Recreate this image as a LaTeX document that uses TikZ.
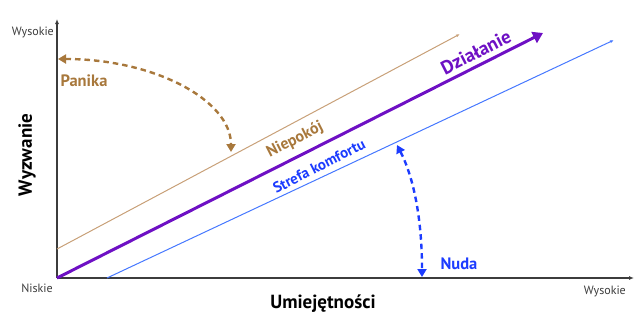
\documentclass[tikz,border=0pt]{standalone}
\usepackage{fontspec}
\setmainfont{PT Sans}
\usetikzlibrary{arrows.meta}
\definecolor{axisgray}{RGB}{60,60,60}
\definecolor{brownT}{RGB}{168,120,60}
\definecolor{brownL}{RGB}{200,160,120}
\definecolor{purp}{RGB}{110,16,196}
\definecolor{blueT}{RGB}{28,60,255}
\definecolor{blueL}{RGB}{70,120,255}
\tikzset{
  axis/.style={draw=axisgray, line width=1.3pt, -{Latex[length=5pt,width=4pt]}},
  small/.style={font=\fontsize{12}{14}\selectfont, text=axisgray, inner sep=1pt},
  title/.style={font=\bfseries\fontsize{19}{21}\selectfont, inner sep=0pt},
  lab/.style={font=\bfseries\fontsize{16.5}{18}\selectfont, inner sep=0pt},
  dasharrow/.style={line width=2.4pt, dash pattern=on 5.5pt off 4pt, {Triangle[length=8pt,width=9pt]}-{Triangle[length=8pt,width=9pt]}}
}
\begin{document}
\begin{tikzpicture}[x=1pt,y=-1pt]
\useasboundingbox (0,0) rectangle (644,324);
% axes
\coordinate (O) at (57,278);
\coordinate (Ytop) at (57,19);
\coordinate (Xend) at (634,278);
\draw[axis] (O) -- (Ytop);
\draw[axis] (O) -- (Xend);
\node[small, anchor=east] (wys1) at (55,32) {Wysokie};
\node[small, anchor=east] (nis) at (54,288) {Niskie};
\node[small, anchor=east] (wys2) at (627,291) {Wysokie};
\node[title, rotate=90] (wyz) at (27,155) {Wyzwanie};
\node[title] (umi) at (323,304) {Umiejętności};
% lines
\coordinate (b1) at (57,249);
\coordinate (b2) at (460,34);
\draw[brownL, line width=1pt, -{Latex[length=4pt,width=3pt]}] (b1) -- (b2);
\coordinate (p2) at (543,33);
\draw[purp, line width=3pt, -{Triangle[length=10pt,width=12pt]}] (O) -- (p2);
\coordinate (c1) at (107,278);
\coordinate (c2) at (614,40);
\draw[blueL, line width=1pt, -{Latex[length=4pt,width=3pt]}] (c1) -- (c2);
% line labels
\node[lab, text=purp, rotate=27, font=\bfseries\fontsize{19}{21}\selectfont] (dz) at (476,52) {Działanie};
\node[lab, text=brownT, rotate=27, font=\bfseries\fontsize{16}{18}\selectfont] (nie) at (295,140) {Niepokój};
\node[lab, text=blueT, rotate=27, font=\bfseries\fontsize{15}{17}\selectfont] (str) at (319,166) {Strefa komfortu};
% zone labels
\node[lab, text=brownT] (pan) at (84,81) {Panika};
\node[lab, text=blueT] (nud) at (459,264) {Nuda};
% dashed arrows
\coordinate (pa1) at (58,59);
\coordinate (pa2) at (231,152);
\draw[dasharrow, brownT] (pa1) .. controls (154,59) and (231,100) .. (pa2);
\coordinate (nu1) at (397,145);
\coordinate (nu2) at (422,277);
\draw[dasharrow, blueT] (nu1) .. controls (414,178) and (422,220) .. (nu2);
\end{tikzpicture}
\end{document}
